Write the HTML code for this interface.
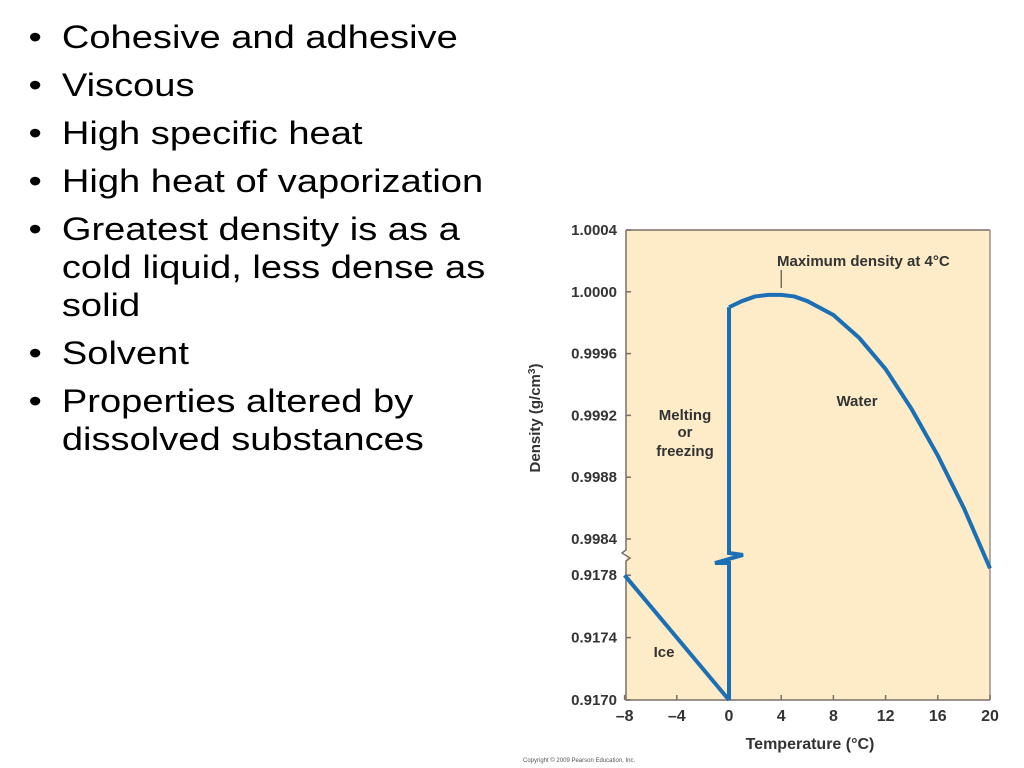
<!DOCTYPE html>
<html><head><meta charset="utf-8"><style>
body{margin:0;width:1024px;height:768px;background:#fff;overflow:hidden;position:relative;font-family:"Liberation Sans",Arial,sans-serif}
ul{position:absolute;left:0;top:18px;margin:0;padding:0;list-style:none;font-size:32px;color:#000;transform:scaleX(1.19);transform-origin:0 0;white-space:nowrap}
li{position:relative;padding-left:52px;line-height:38px;margin-bottom:10px}
li:before{content:"•";position:absolute;left:24px}
</style></head><body>
<ul>
<li>Cohesive and adhesive</li>
<li>Viscous</li>
<li>High specific heat</li>
<li>High heat of vaporization</li>
<li>Greatest density is as a<br>cold liquid, less dense as<br>solid</li>
<li>Solvent</li>
<li>Properties altered by<br>dissolved substances</li>
</ul>
<svg id="chart" width="1024" height="768" style="position:absolute;left:0;top:0" font-family="Liberation Sans, Arial, sans-serif" font-weight="bold"></svg>
<script>
const xTicks=[-8,-4,0,4,8,12,16,20];
const xTickLabels=["–8","–4","0","4","8","12","16","20"];
const yUpperTicks=[1.0004,1.0000,0.9996,0.9992,0.9988,0.9984];
const yUpperLabels=["1.0004","1.0000","0.9996","0.9992","0.9988","0.9984"];
const yLowerTicks=[0.9178,0.9174,0.9170];
const yLowerLabels=["0.9178","0.9174","0.9170"];
const waterT=[0,1,2,3,4,5,6,8,10,12,14,16,18,20];
const waterD=[0.99990,0.99994,0.99997,0.99998,0.99998,0.99997,0.99994,0.99985,0.99970,0.99950,0.99924,0.99894,0.99860,0.99821];
const iceT=[-8,0];
const iceD=[0.9178,0.9170];

const NS="http://www.w3.org/2000/svg";
const svg=document.getElementById('chart');
function xs(t){return 729+(t)*(990-729)/20;}
function yU(d){return 539-(d-0.9984)/0.0001*15.45;}
function yL(d){return 700-(d-0.9170)/0.0001*15.6;}
function mk(tag,a,txt){const e=document.createElementNS(NS,tag);for(const k in a)e.setAttribute(k,a[k]);if(txt!=null)e.textContent=txt;svg.appendChild(e);return e;}
const L=626,T=230,R=990,B=700;
let e=mk('rect',{x:L,y:T,width:R-L,height:B-T,fill:'#fdecc7',stroke:'none'});


mk('line',{x1:L,y1:T,x2:R,y2:T,stroke:'#7a6f66','stroke-width':1.5});
mk('line',{x1:R,y1:T,x2:R,y2:B,stroke:'#9a918a','stroke-width':1.5});
mk('polyline',{points:`${L},${T} ${L},550 ${L-4},553 ${L+4},558 ${L},561 ${L},${B} ${R},${B}`,fill:'none',stroke:'#7a6f66','stroke-width':1.5});
yUpperTicks.forEach((v,i)=>{const y=yU(v);
mk('line',{x1:L,y1:y,x2:L+5,y2:y,stroke:'#7a6f66','stroke-width':1.5});
const t=mk('text',{x:L-9,y:y+5,'text-anchor':'end','font-size':15,fill:'#333'},yUpperLabels[i]);

});
yLowerTicks.forEach((v,i)=>{const y=yL(v);
mk('line',{x1:L,y1:y,x2:L+5,y2:y,stroke:'#7a6f66','stroke-width':1.5});
const t=mk('text',{x:L-9,y:y+5,'text-anchor':'end','font-size':15,fill:'#333'},yLowerLabels[i]);

});
xTicks.forEach((v,i)=>{const x=xs(v);
mk('line',{x1:x,y1:B,x2:x,y2:B-5,stroke:'#7a6f66','stroke-width':1.5});
const t=mk('text',{x:x,y:B+21,'text-anchor':'middle','font-size':16,fill:'#333'},xTickLabels[i]);

});
let xt=mk('text',{x:810,y:749,'text-anchor':'middle','font-size':16,fill:'#333'},'Temperature (°C)');


let yt=mk('text',{x:540,y:418,'text-anchor':'middle','font-size':15,fill:'#333',transform:'rotate(-90 540 418)'});
yt.innerHTML='Density (g/cm<tspan dy="-5" font-size="10">3</tspan><tspan dy="5">)</tspan>';


let ice=mk('polyline',{points:iceT.map((t,i)=>xs(t)+','+yL(iceD[i])).join(' '),fill:'none',stroke:'#1a6fb5','stroke-width':4});


const x0=xs(0),yTop=yU(waterD[0]),yBot=yL(iceD[1]);
let v=mk('polyline',{points:`${x0},${yBot} ${x0},563 ${x0-14},563 ${x0+14},555 ${x0},553 ${x0},${yTop}`,fill:'none',stroke:'#1a6fb5','stroke-width':4,'stroke-linejoin':'miter'});


let w=mk('polyline',{points:waterT.map((t,i)=>xs(t)+','+yU(waterD[i])).join(' '),fill:'none',stroke:'#1a6fb5','stroke-width':4,'stroke-linejoin':'round'});


mk('line',{x1:xs(4),y1:270,x2:xs(4),y2:288,stroke:'#333','stroke-width':1});
let a=mk('text',{x:777,y:266,'font-size':15,fill:'#333'},'Maximum density at 4°C');


let wl=mk('text',{x:857,y:406,'text-anchor':'middle','font-size':15,fill:'#333'},'Water');


[['Melting',420],['or',437],['freezing',456]].forEach(([s,y])=>{const t=mk('text',{x:685,y:y,'text-anchor':'middle','font-size':15,fill:'#333'},s);

});
let il=mk('text',{x:664,y:657,'text-anchor':'middle','font-size':15,fill:'#333'},'Ice');


let c=mk('text',{x:523,y:762,'font-size':6,'font-weight':'normal',fill:'#555'},'Copyright © 2009 Pearson Education, Inc.');


</script>
</body></html>
